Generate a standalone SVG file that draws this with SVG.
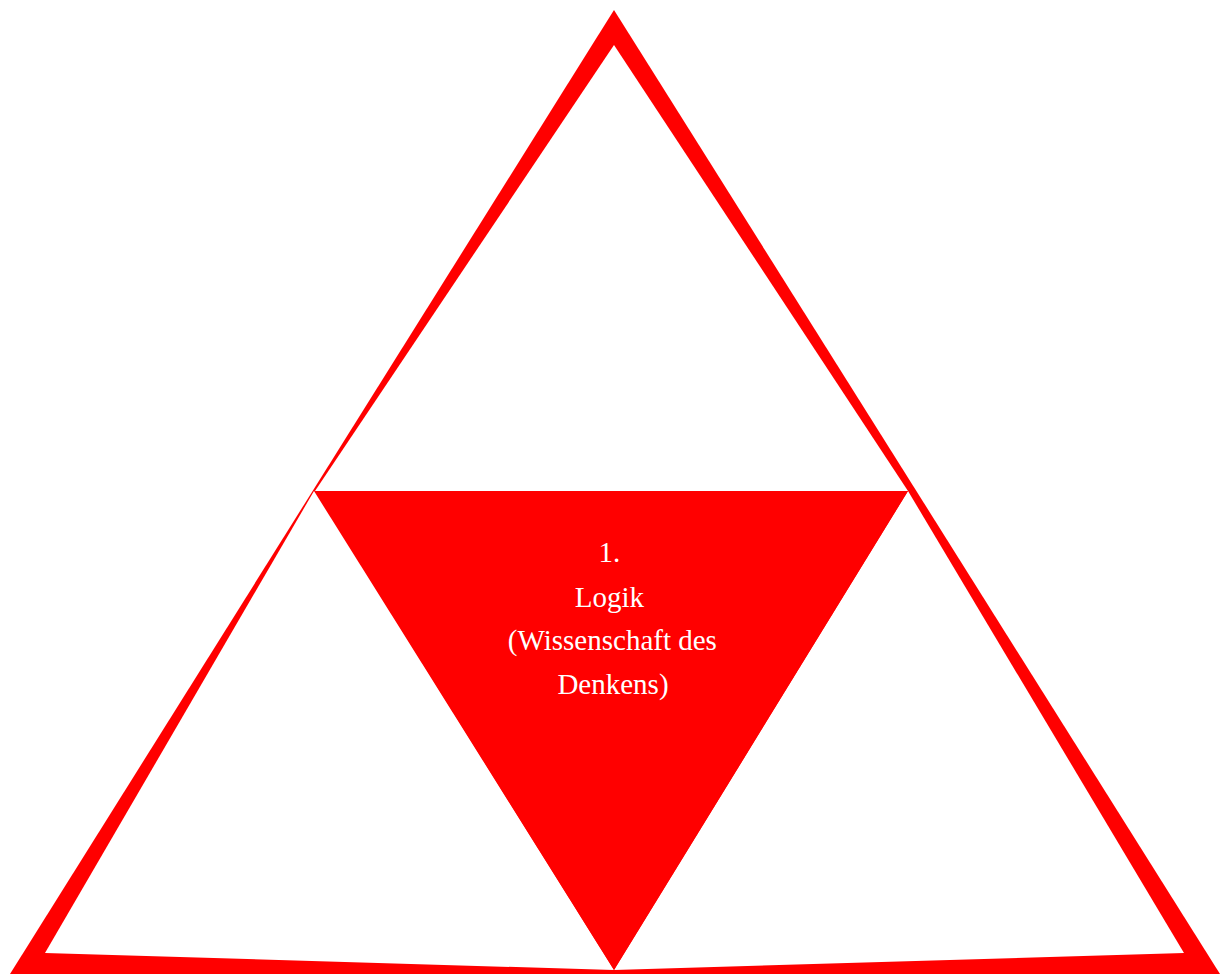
<svg xmlns="http://www.w3.org/2000/svg" width="1220" height="974" viewBox="0 0 1220 974">
  <style>
    .red { fill: #ff0000; }
    .white { fill: #ffffff; }
    .label { font-family: "Liberation Serif", "Times New Roman", serif; font-size: 29px; fill: #ffffff; text-anchor: middle; }
  </style>
  <rect x="0" y="0" width="1220" height="974" fill="#ffffff"/>
  <g id="outer-triangle">
    <polygon class="red" points="614,10 1220,974 10,974"/>
  </g>
  <g id="top-triangle">
    <polygon class="white" points="614,45 908,491 315,491"/>
  </g>
  <g id="left-triangle">
    <polygon class="white" points="314,491 614,970 45,953"/>
  </g>
  <g id="right-triangle">
    <polygon class="white" points="908,491 1184,953 614,970"/>
  </g>
  <g id="center-triangle">
    <polygon class="red" points="315,491 908,491 614,970"/>
    <text class="label">
      <tspan x="613" y="562">1.</tspan>
      <tspan x="613" y="607">Logik</tspan>
      <tspan x="616" y="650">(Wissenschaft des</tspan>
      <tspan x="613" y="694">Denkens)</tspan>
    </text>
  </g>
</svg>
